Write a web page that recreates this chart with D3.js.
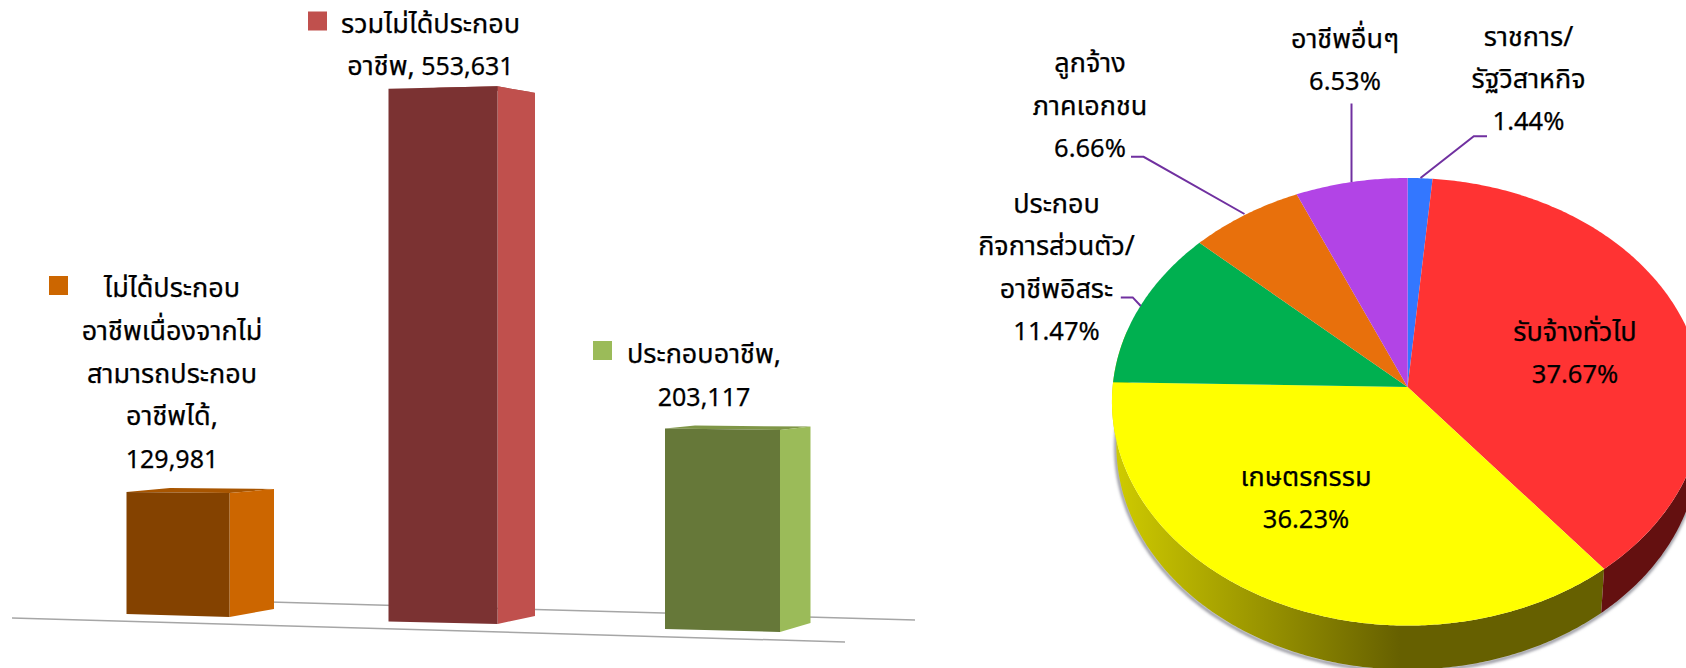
<!DOCTYPE html>
<html>
<head>
<meta charset="utf-8">
<script src="https://cdn.jsdelivr.net/npm/d3@7"></script>
<style>
  html, body { margin: 0; padding: 0; background: #fff; overflow: hidden; }
  svg { display: block; }
  text { font-family: Tahoma, "Noto Sans Thai", "Noto Sans", sans-serif; font-size: 27px; fill: #000; stroke: #000; stroke-width: 0.25px; text-anchor: middle; }
  .num { font-size: 25px; }
  .pct { font-size: 25.5px; }
</style>
</head>
<body>
<svg id="chart" width="1686" height="668"></svg>
<script>
// left chart data
const barNames = ["ไม่ได้ประกอบอาชีพเนื่องจากไม่สามารถประกอบอาชีพได้", "รวมไม่ได้ประกอบอาชีพ", "ประกอบอาชีพ"];
const barValues = [129981, 553631, 203117];
const barLabelLines = [
  ["ไม่ได้ประกอบ", "อาชีพเนื่องจากไม่", "สามารถประกอบ", "อาชีพได้,"],
  ["รวมไม่ได้ประกอบ", "อาชีพ,"],
  ["ประกอบอาชีพ,"]
];
const barFront = ["#844200", "#7b3232", "#667839"];
const barSide = ["#cc6600", "#c0504d", "#9bbb59"];
const barTop = ["#a85500", "#9c4441", "#7f9647"];

// right chart data
const pieNames = ["ราชการ/รัฐวิสาหกิจ", "รับจ้างทั่วไป", "เกษตรกรรม", "ประกอบกิจการส่วนตัว/อาชีพอิสระ", "ลูกจ้างภาคเอกชน", "อาชีพอื่นๆ"];
const pieValues = [1.44, 37.67, 36.23, 11.47, 6.66, 6.53];
const pieColors = ["#3377ff", "#ff3333", "#ffff00", "#00b050", "#e8700c", "#b244e6"];
const pieLabelLines = [
  ["ราชการ/", "รัฐวิสาหกิจ"],
  ["รับจ้างทั่วไป"],
  ["เกษตรกรรม"],
  ["ประกอบ", "กิจการส่วนตัว/", "อาชีพอิสระ"],
  ["ลูกจ้าง", "ภาคเอกชน"],
  ["อาชีพอื่นๆ"]
];

const svg = d3.select("#chart");
const defs = svg.append("defs");
const gFloor = svg.append("g");
const gBars = svg.append("g");
const gPie = svg.append("g");
const gLabels = svg.append("g");

// ----- bars -----
// perspective layout of each column, measured on the picture
// pL/pR/pS = height factor of the front left, front right and side edge
const barLayout = [
  {x0: 126.5, x1: 229.5, xs: 274, base0: 614, base1: 617, baseS: 609, pL: 0.971, pR: 0.987, pS: 0.955, backX: 170, rise: 4, keyX: 49, keyY: 276, cx: 172, y0: 297.4},
  {x0: 388.5, x1: 497.5, xs: 535, base0: 621.5, base1: 624, baseS: 616, pL: 0.996, pR: 1.005, pS: 0.978, backX: 434, rise: 0.9, keyX: 308, keyY: 11.5, cx: 430.5, y0: 32.8},
  {x0: 665, x1: 780, xs: 810.5, base0: 629, base1: 632, baseS: 623, pL: 1.021, pR: 1.029, pS: 1.001, backX: 695, rise: 3, keyX: 593, keyY: 341, cx: 704, y0: 363}
];
const h = d3.scaleLinear().domain([0, d3.max(barValues)]).range([0, 535]);
const poly = d3.line();
const fmt = d3.format(",");

gFloor.append("path").attr("d", poly([[12, 618], [845, 642]])).attr("stroke", "#a6a6a6").attr("stroke-width", 1.5).attr("fill", "none");
gFloor.append("path").attr("d", poly([[270, 602], [915, 620]])).attr("stroke", "#a6a6a6").attr("stroke-width", 1.5).attr("fill", "none");

barValues.forEach((v, i) => {
  const b = barLayout[i];
  const topL = b.base0 - h(v) * b.pL, topR = b.base1 - h(v) * b.pR, topS = b.baseS - h(v) * b.pS;
  // top face
  gBars.append("path").attr("d", poly([[b.x0, topL], [b.backX, topL - b.rise], [b.xs, topS], [b.x1, topR]]) + "Z").attr("fill", barTop[i]);
  // side face
  gBars.append("path").attr("d", poly([[b.x1, topR], [b.xs, topS], [b.xs, b.baseS], [b.x1, b.base1]]) + "Z").attr("fill", barSide[i]);
  // front face
  gBars.append("path").attr("d", poly([[b.x0, topL], [b.x1, topR], [b.x1, b.base1], [b.x0, b.base0]]) + "Z").attr("fill", barFront[i]);
  // legend key
  gLabels.append("rect").attr("x", b.keyX).attr("y", b.keyY).attr("width", 19).attr("height", 19).attr("fill", barSide[i]);

  barLabelLines[i].forEach((s, j) => {
    const t = gLabels.append("text").attr("x", b.cx).attr("y", b.y0 + j * 42.6);
    t.append("tspan").text(s);
    // middle bar keeps its value on the last name line
    if (i === 1 && j === 1) t.append("tspan").attr("class", "num").text(" " + fmt(v));
  });
  if (i !== 1) {
    gLabels.append("text").attr("class", "num").attr("x", b.cx).attr("y", b.y0 + barLabelLines[i].length * 42.6).text(fmt(v));
  }
});

// ----- pie -----
const cx = 1407.6, cy = 387, R = 295, Ry = 222.8, k = -0.066, depth = 44, bottomScale = 0.985;
const pieGen = d3.pie().sort(null).value(d => d);
const arcs = pieGen(pieValues);
// tilted disc: pie angle to screen point
function rim(a) {
  const u = Math.sin(a), v = -Math.cos(a), w = 1 + k * v;
  return [cx + R * u / w, cy + Ry * v / w];
}
function rimBottom(a) {
  const p = rim(a);
  return [cx + (p[0] - cx) * bottomScale, p[1] + depth];
}
function sweep(a0, a1, fn) {
  const n = Math.max(2, Math.ceil(Math.abs(a1 - a0) / 0.01));
  return d3.range(n + 1).map(i => fn(a0 + (a1 - a0) * i / n));
}
const deg = Math.PI / 180;

// wall shading
const wallGrad = defs.append("linearGradient").attr("id", "wallYellow").attr("gradientUnits", "userSpaceOnUse")
  .attr("x1", 1112).attr("x2", 1400).attr("y1", 0).attr("y2", 0);
wallGrad.append("stop").attr("offset", 0).attr("stop-color", "#d0cc00");
wallGrad.append("stop").attr("offset", 1).attr("stop-color", "#666000");
defs.append("filter").attr("id", "soft").append("feGaussianBlur").attr("stdDeviation", 1.6);

// soft shadow under the wall
gPie.append("path")
  .attr("d", poly(sweep(85 * deg, 285 * deg, rimBottom)))
  .attr("fill", "none").attr("stroke", "#8c8c96").attr("stroke-width", 3)
  .attr("transform", "translate(-0.5,1.5)").attr("filter", "url(#soft)");

const walls = [
  {from: arcs[2].startAngle, to: 285 * deg, fill: "url(#wallYellow)"},
  {from: 85 * deg, to: arcs[2].startAngle, fill: "#641010"}
];
walls.forEach(w => {
  const pts = sweep(w.from, w.to, rim).concat(sweep(w.to, w.from, rimBottom));
  gPie.append("path").attr("d", poly(pts) + "Z").attr("fill", w.fill);
});

arcs.forEach((d, i) => {
  const pts = [[cx, cy]].concat(sweep(d.startAngle, d.endAngle, rim));
  gPie.append("path").attr("d", poly(pts) + "Z").attr("fill", pieColors[i]);
});

// leader lines
const leaders = [
  [[1420.5, 178], [1473.8, 136.3], [1487, 136.3]],
  [[1351.5, 103.5], [1351.5, 182]],
  [[1131, 156.8], [1143.6, 156.8], [1244.5, 214]],
  [[1120.8, 297.4], [1132.7, 297.4], [1140.8, 306]]
];
leaders.forEach(l => {
  gPie.append("path").attr("d", poly(l)).attr("fill", "none").attr("stroke", "#7030a0").attr("stroke-width", 2);
});

// pie labels, anchor = centre x and first baseline
const pieLabelPos = [[1528.5, 45.6], [1575, 341], [1306, 485.7], [1056.5, 213], [1090, 72.4], [1345, 47.7]];
pieValues.forEach((v, i) => {
  pieLabelLines[i].forEach((s, j) => {
    gLabels.append("text").attr("x", pieLabelPos[i][0]).attr("y", pieLabelPos[i][1] + j * 42.3).text(s);
  });
  gLabels.append("text").attr("class", "pct").attr("x", pieLabelPos[i][0])
    .attr("y", pieLabelPos[i][1] + pieLabelLines[i].length * 42.3).text(v.toFixed(2) + "%");
});
</script>
</body>
</html>
